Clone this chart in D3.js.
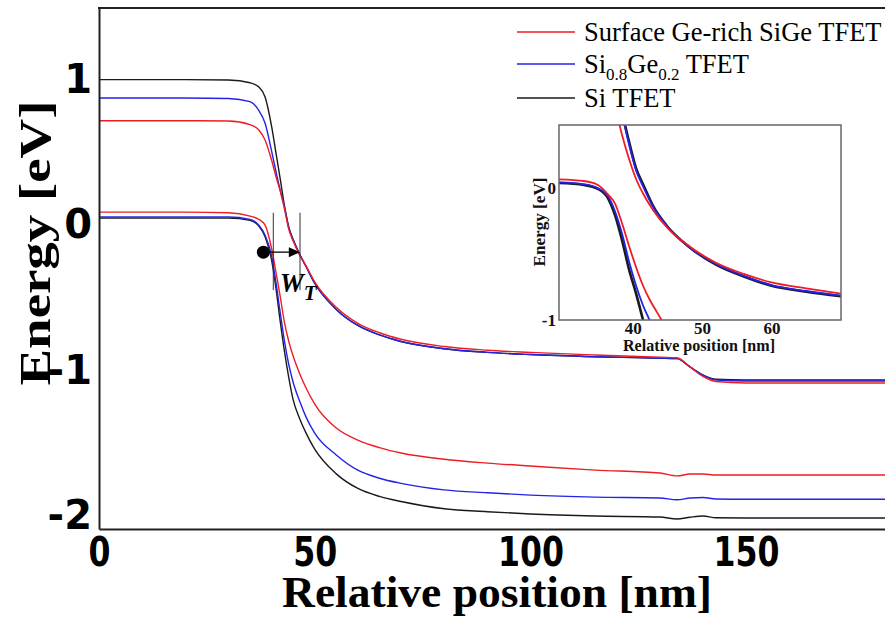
<!DOCTYPE html>
<html lang="en">
<head>
<meta charset="utf-8">
<title>TFET band diagram</title>
<script src="https://d3js.org/d3.v7.min.js"></script>
<style>
  body { margin: 0; background: #fff; }
  svg { display: block; }
</style>
</head>
<body>
<div id="chart"></div>
<script>
// position along the channel (nm), shared by all main-plot curves
const posX = [0, 20, 30, 35, 37, 38.5, 40, 41, 42, 43, 44, 45, 46.5, 48, 50, 55, 60, 65, 70, 80, 90, 100, 115, 130, 134, 137, 140, 143, 150, 170, 183];

// conduction band edges (eV)
const ecSi     = [1.00, 1.00, 0.997, 0.978, 0.95, 0.88, 0.68, 0.50, 0.32, 0.13, -0.015, -0.10, -0.20, -0.285, -0.40, -0.58, -0.69, -0.755, -0.80, -0.85, -0.875, -0.89, -0.905, -0.915, -0.918, -0.975, -1.03, -1.06, -1.065, -1.065, -1.065];
const ecSiGe   = [0.873, 0.873, 0.87, 0.848, 0.79, 0.70, 0.51, 0.37, 0.24, 0.125, -0.02, -0.10, -0.20, -0.285, -0.40, -0.58, -0.69, -0.755, -0.80, -0.85, -0.875, -0.89, -0.905, -0.915, -0.918, -0.975, -1.032, -1.065, -1.072, -1.072, -1.072];
const ecGeRich = [0.717, 0.717, 0.715, 0.69, 0.655, 0.585, 0.447, 0.336, 0.235, 0.11, -0.03, -0.11, -0.205, -0.28, -0.39, -0.565, -0.675, -0.74, -0.785, -0.835, -0.86, -0.875, -0.893, -0.908, -0.912, -0.975, -1.04, -1.075, -1.085, -1.085, -1.085];

// valence band edges (eV)
const evSi     = [0.048, 0.048, 0.048, 0.032, -0.005, -0.08, -0.24, -0.43, -0.66, -0.87, -1.05, -1.20, -1.33, -1.43, -1.54, -1.71, -1.81, -1.865, -1.90, -1.95, -1.97, -1.986, -2.0, -2.007, -2.02, -2.008, -2.0, -2.012, -2.013, -2.013, -2.013];
const evSiGe   = [0.055, 0.055, 0.055, 0.038, 0.0, -0.07, -0.21, -0.39, -0.60, -0.80, -0.96, -1.08, -1.21, -1.32, -1.43, -1.58, -1.685, -1.74, -1.775, -1.82, -1.84, -1.856, -1.87, -1.876, -1.888, -1.876, -1.872, -1.883, -1.885, -1.885, -1.885];
const evGeRich = [0.089, 0.089, 0.085, 0.062, 0.04, 0.0, -0.16, -0.32, -0.49, -0.67, -0.80, -0.90, -1.02, -1.12, -1.23, -1.395, -1.478, -1.53, -1.567, -1.61, -1.636, -1.656, -1.684, -1.704, -1.724, -1.711, -1.711, -1.718, -1.718, -1.718, -1.718];

// inset (zoom on the tunnelling junction)
const insetEvX   = [29.4, 33, 35, 36.5, 37.5, 38.5, 39.5, 40.5, 41.5, 42.5, 43.5, 44.5];
const inEvSi     = [0.04, 0.025, -0.005, -0.08, -0.21, -0.40, -0.62, -0.80, -1.0, -1.2, -1.4, -1.6];
const inEvSiGe   = [0.045, 0.03, 0.0, -0.065, -0.18, -0.35, -0.56, -0.74, -0.89, -1.01, -1.15, -1.3];
const inEvGeRich = [0.068, 0.055, 0.025, -0.05, -0.12, -0.27, -0.44, -0.60, -0.74, -0.85, -0.94, -1.03];

const insetEcX   = [37.5, 38.5, 39.5, 40.5, 41.5, 43, 45, 48, 52, 56, 60, 65, 70];
const inEcSi     = [0.9, 0.58, 0.35, 0.15, 0.03, -0.14, -0.29, -0.44, -0.58, -0.67, -0.74, -0.785, -0.82];
const inEcSiGe   = [0.85, 0.56, 0.33, 0.135, 0.015, -0.145, -0.29, -0.44, -0.575, -0.665, -0.735, -0.78, -0.815];
const inEcGeRich = [0.62, 0.40, 0.22, 0.07, -0.04, -0.17, -0.30, -0.435, -0.565, -0.65, -0.715, -0.76, -0.80];

// ticks and labels
const xTicks = [0, 50, 100, 150];
const yTicks = [1, 0, -1, -2];
const insetXTicks = [40, 50, 60];
const insetYTicks = [0, -1];
const legendLabels = ["Surface Ge-rich SiGe TFET", "Si0.8Ge0.2 TFET", "Si TFET"];

const colors = { geRich: "#ee1d24", siGe: "#2323e6", si: "#1a1a1a" };

const W = 885, H = 622;
const svg = d3.select("#chart").append("svg")
    .attr("width", W)
    .attr("height", H);

const serif = "'Liberation Serif', 'Times New Roman', serif";
const sans = "'DejaVu Sans', Verdana, sans-serif";

// main scales
const x = d3.scaleLinear().domain([0, 182.2]).range([99, 885]);
const y = d3.scaleLinear().domain([-2.089, 1.492]).range([529, 8]);

svg.append("clipPath").attr("id", "mainClip")
  .append("rect")
    .attr("x", 99).attr("y", 8)
    .attr("width", 786).attr("height", 521);

const line = d3.line()
    .x((d, i) => x(posX[i]))
    .y(d => y(d))
    .curve(d3.curveMonotoneX);

// black first, red on top
const mainSeries = [
  { vals: ecSi, color: colors.si }, { vals: evSi, color: colors.si },
  { vals: ecSiGe, color: colors.siGe }, { vals: evSiGe, color: colors.siGe },
  { vals: ecGeRich, color: colors.geRich }, { vals: evGeRich, color: colors.geRich }
];

svg.append("g")
    .attr("clip-path", "url(#mainClip)")
  .selectAll("path")
  .data(mainSeries)
  .join("path")
    .attr("d", d => line(d.vals))
    .attr("fill", "none")
    .attr("stroke", d => d.color)
    .attr("stroke-width", 1.4);

// x axis
const xAxis = svg.append("g")
    .attr("transform", "translate(0,529)")
    .call(d3.axisBottom(x).tickValues(xTicks).tickSize(0).tickPadding(9));
xAxis.select(".domain").attr("stroke", "#222").attr("stroke-width", 2);
xAxis.selectAll("text")
    .style("font-family", sans)
    .style("font-weight", "bold")
    .style("font-size", "40px")
    .attr("fill", "#000")
    .attr("textLength", d => String(d).length * 22)
    .attr("lengthAdjust", "spacingAndGlyphs");

// y axis
const yAxis = svg.append("g")
    .attr("transform", "translate(99,0)")
    .call(d3.axisLeft(y).tickValues(yTicks).tickSize(0).tickPadding(7)
      .tickFormat(d => d < 0 ? "-" + Math.abs(d) : String(d)));
yAxis.select(".domain").attr("stroke", "#222").attr("stroke-width", 2);
yAxis.selectAll("text")
    .style("font-family", sans)
    .style("font-weight", "bold")
    .style("font-size", "40px")
    .attr("fill", "#000");

// top border of the frame
svg.append("line")
    .attr("x1", 98).attr("x2", 885)
    .attr("y1", 8).attr("y2", 8)
    .attr("stroke", "#222").attr("stroke-width", 2);

// axis titles
svg.append("text")
    .attr("x", 497).attr("y", 607)
    .attr("text-anchor", "middle")
    .attr("textLength", 430).attr("lengthAdjust", "spacingAndGlyphs")
    .style("font-family", serif).style("font-weight", "bold").style("font-size", "45px")
    .text("Relative position [nm]");

svg.append("text")
    .attr("transform", "translate(50,243) rotate(-90)")
    .attr("text-anchor", "middle")
    .attr("textLength", 285).attr("lengthAdjust", "spacingAndGlyphs")
    .style("font-family", serif).style("font-weight", "bold").style("font-size", "45px")
    .text("Energy [eV]");

// legend
const legendColors = [colors.geRich, colors.siGe, colors.si];
const legendY = [32, 64, 98];
const legend = svg.append("g");
legendLabels.forEach(function(lbl, i) {
  legend.append("line")
      .attr("x1", 517).attr("x2", 575)
      .attr("y1", legendY[i]).attr("y2", legendY[i])
      .attr("stroke", legendColors[i]).attr("stroke-width", 1.4);
  const t = legend.append("text")
      .attr("x", 584).attr("y", legendY[i] + 9)
      .style("font-family", serif).style("font-size", "26.5px");
  if (i == 1) {
    // Si0.8Ge0.2 with subscripts
    t.append("tspan").text("Si");
    t.append("tspan").attr("dy", 7).style("font-size", "17px").text("0.8");
    t.append("tspan").attr("dy", -7).text("Ge");
    t.append("tspan").attr("dy", 7).style("font-size", "17px").text("0.2");
    t.append("tspan").attr("dy", -7).text(" TFET");
  } else {
    t.text(lbl);
  }
});

// W_T annotation
const ann = svg.append("g");
[40.4, 46.6].forEach(function(p) {
  ann.append("line")
      .attr("x1", x(p)).attr("x2", x(p))
      .attr("y1", y(0.085)).attr("y2", y(-0.447))
      .attr("stroke", "#333").attr("stroke-width", 1);
});
ann.append("line")
    .attr("x1", x(38.1)).attr("x2", x(45.0))
    .attr("y1", y(-0.186)).attr("y2", y(-0.186))
    .attr("stroke", "#000").attr("stroke-width", 1.3);
ann.append("path")
    .attr("d", `M${x(46.6)},${y(-0.186)} L${x(44.0)},${y(-0.186) - 5} L${x(44.0)},${y(-0.186) + 5} Z`)
    .attr("fill", "#000");
ann.append("circle")
    .attr("cx", x(38.1)).attr("cy", y(-0.186))
    .attr("r", 6.5)
    .attr("fill", "#000");
const wt = ann.append("text")
    .attr("x", x(41.9)).attr("y", y(-0.458))
    .style("font-family", serif).style("font-weight", "bold").style("font-style", "italic")
    .style("font-size", "27px");
wt.append("tspan").text("W");
wt.append("tspan").attr("dy", 8).style("font-size", "21px").text("T");

// ---------- inset ----------
const ix = d3.scaleLinear().domain([29.4, 70]).range([559, 841]);
const iy = d3.scaleLinear().domain([-1, 0.48]).range([320, 125]);

const inset = svg.append("g");
inset.append("rect")
    .attr("x", 559).attr("y", 125)
    .attr("width", 282).attr("height", 195)
    .attr("fill", "#fff");

inset.append("clipPath").attr("id", "insetClip")
  .append("rect")
    .attr("x", 559).attr("y", 125)
    .attr("width", 282).attr("height", 195);

const insetSeries = [
  { xs: insetEvX, vals: inEvSi, color: colors.si, w: 2.6 },
  { xs: insetEcX, vals: inEcSi, color: colors.si, w: 2.6 },
  { xs: insetEvX, vals: inEvSiGe, color: colors.siGe, w: 1.8 },
  { xs: insetEcX, vals: inEcSiGe, color: colors.siGe, w: 1.8 },
  { xs: insetEvX, vals: inEvGeRich, color: colors.geRich, w: 1.8 },
  { xs: insetEcX, vals: inEcGeRich, color: colors.geRich, w: 1.8 }
];

inset.append("g")
    .attr("clip-path", "url(#insetClip)")
  .selectAll("path")
  .data(insetSeries)
  .join("path")
    .attr("d", s => d3.line()
        .x((d, i) => ix(s.xs[i]))
        .y(d => iy(d))
        .curve(d3.curveMonotoneX)(s.vals))
    .attr("fill", "none")
    .attr("stroke", s => s.color)
    .attr("stroke-width", s => s.w);

const ixAxis = inset.append("g")
    .attr("transform", "translate(0,320)")
    .call(d3.axisBottom(ix).tickValues(insetXTicks).tickSize(0).tickPadding(2));
ixAxis.select(".domain").remove();
ixAxis.selectAll("text")
    .style("font-family", serif).style("font-weight", "bold").style("font-size", "17px")
    .attr("fill", "#111");

const iyAxis = inset.append("g")
    .attr("transform", "translate(559,0)")
    .call(d3.axisLeft(iy).tickValues(insetYTicks).tickSize(0).tickPadding(3)
      .tickFormat(d => d < 0 ? "-" + Math.abs(d) : String(d)));
iyAxis.select(".domain").remove();
iyAxis.selectAll("text")
    .style("font-family", serif).style("font-weight", "bold").style("font-size", "17px")
    .attr("fill", "#111");

inset.append("rect")
    .attr("x", 559).attr("y", 125)
    .attr("width", 282).attr("height", 195)
    .attr("fill", "none")
    .attr("stroke", "#666").attr("stroke-width", 1.5);

inset.append("text")
    .attr("x", 699).attr("y", 351)
    .attr("text-anchor", "middle")
    .attr("textLength", 152).attr("lengthAdjust", "spacingAndGlyphs")
    .style("font-family", serif).style("font-weight", "bold").style("font-size", "16px")
    .attr("fill", "#111")
    .text("Relative position [nm]");

inset.append("text")
    .attr("transform", "translate(545,222) rotate(-90)")
    .attr("text-anchor", "middle")
    .attr("textLength", 89).attr("lengthAdjust", "spacingAndGlyphs")
    .style("font-family", serif).style("font-weight", "bold").style("font-size", "17px")
    .attr("fill", "#111")
    .text("Energy [eV]");
</script>
</body>
</html>
